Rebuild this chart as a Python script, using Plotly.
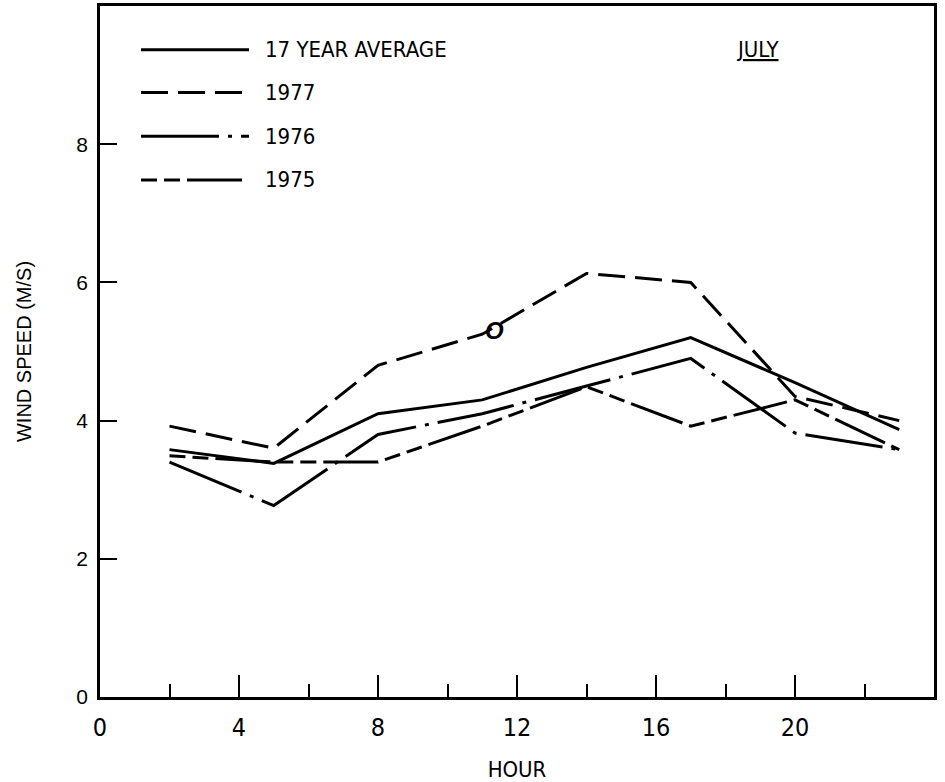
import plotly.graph_objects as go

hours = [2, 5, 8, 11, 14, 17, 20, 23]
avg17 = [3.58, 3.38, 4.10, 4.30, 4.77, 5.20, 4.55, 3.87]
y1977 = [3.92, 3.60, 4.80, 5.25, 6.13, 6.00, 4.35, 4.00]
y1976 = [3.40, 2.77, 3.80, 4.10, 4.50, 4.90, 3.82, 3.58]
y1975 = [3.49, 3.40, 3.40, 3.92, 4.49, 3.92, 4.30, 3.58]

series_names = ["17 YEAR AVERAGE", "1977", "1976", "1975"]
series_vals = [avg17, y1977, y1976, y1975]
dashes = ["solid", "27px,10px", "78px,9px,4px,9px", "16px,7px,16px,7px,55px,7px"]

x_ticks = [0, 4, 8, 12, 16, 20, 24]
y_ticks = [0, 2, 4, 6, 8]

NARROW = "Liberation Sans Narrow, Arial Narrow, DejaVu Sans Condensed, sans-serif"
REG = "Liberation Sans, Arial, sans-serif"

fig = go.Figure()
for name, vals, d in zip(series_names, series_vals, dashes):
    fig.add_trace(go.Scatter(x=hours, y=vals, mode="lines", name=name,
                             line=dict(color="black", width=3, dash=d),
                             showlegend=False))

W, H = 945, 782
ml, mr, mt, mb = 100, 11, 3, 84
pw, ph = W - ml - mr, H - mt - mb


def px(xp):
    return (xp - ml) / pw


def py(yp):
    return (H - mb - yp) / ph


# custom legend (long samples like the original)
leg_rows = [47, 90, 134, 178]
shapes = []
annotations = []
for name, d, yr in zip(series_names, dashes, leg_rows):
    shapes.append(dict(type="line", xref="paper", yref="paper",
                       x0=px(141), x1=px(249), y0=py(yr), y1=py(yr),
                       line=dict(color="black", width=3, dash=d)))
    annotations.append(dict(text=name, xref="paper", yref="paper",
                            x=px(263), y=py(yr), xanchor="left", yanchor="middle",
                            showarrow=False, font=dict(family=NARROW, size=22, color="black")))

annotations.append(dict(text="<u>JULY</u>", xref="paper", yref="paper",
                        x=px(757), y=py(47), xanchor="center", yanchor="middle",
                        showarrow=False, font=dict(family=NARROW, size=22, color="black")))
annotations.append(dict(text="<b><i>O</i></b>", x=11.35, y=5.3, xref="x", yref="y",
                        showarrow=False, font=dict(family=REG, size=24, color="black")))

fig.update_layout(
    width=W, height=H,
    margin=dict(l=ml, r=mr, t=mt, b=mb),
    paper_bgcolor="white", plot_bgcolor="white",
    shapes=shapes, annotations=annotations,
    xaxis=dict(range=[0, 24], tickvals=x_ticks, ticktext=[str(v) for v in x_ticks],
               ticks="inside", ticklen=22, tickwidth=2, tickcolor="black",
               minor=dict(dtick=2, tick0=0, ticks="inside", ticklen=13, tickwidth=2, tickcolor="black"),
               showline=True, linewidth=2.5, linecolor="black", mirror=True,
               showgrid=False, zeroline=False,
               tickfont=dict(family=NARROW, size=25, color="black"),
               ticklabelstandoff=6,
               title=dict(text="HOUR", font=dict(family=NARROW, size=22, color="black"), standoff=22)),
    yaxis=dict(range=[0, 10], tickvals=y_ticks, ticktext=[str(v) for v in y_ticks],
               ticks="inside", ticklen=17, tickwidth=2, tickcolor="black",
               showline=True, linewidth=2.5, linecolor="black", mirror=True,
               showgrid=False, zeroline=False,
               tickfont=dict(family=REG, size=21, color="black"),
               ticklabelstandoff=5,
               title=dict(text="WIND SPEED (M/S)", font=dict(family=REG, size=20, color="black"), standoff=40)),
)

fig.write_html("out.html")
